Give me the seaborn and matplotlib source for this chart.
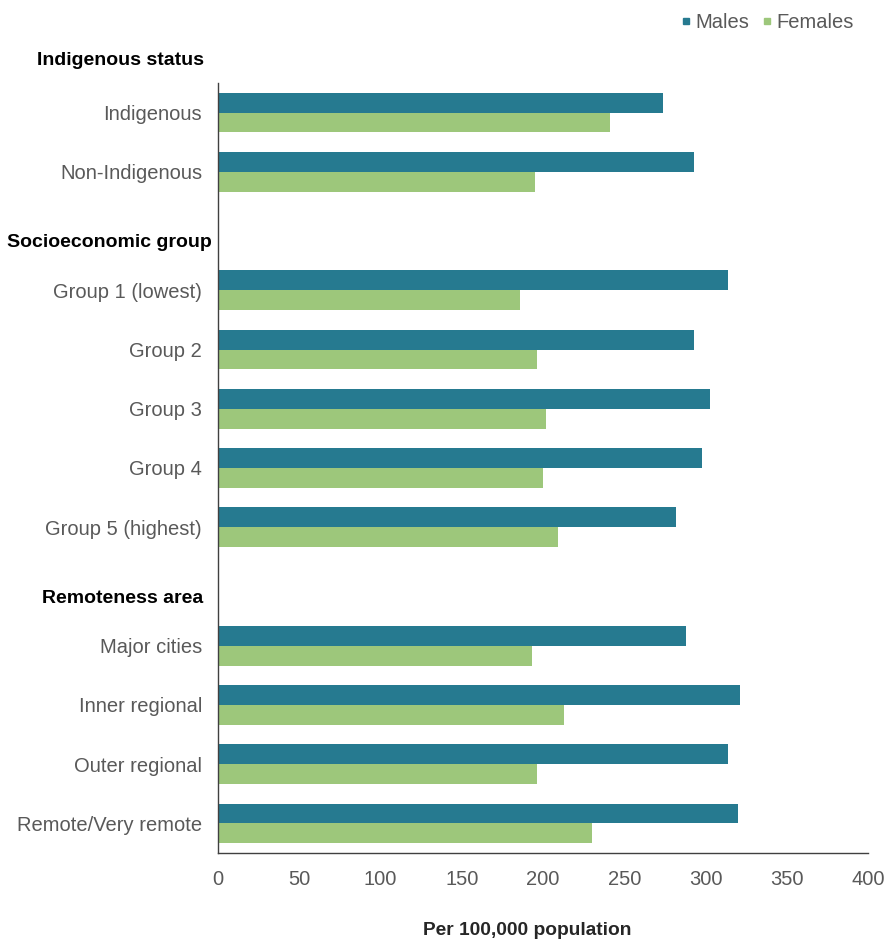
import pandas as pd
import matplotlib.pyplot as plt
from matplotlib.lines import Line2D
import seaborn as sns

# row labels, blank entries are the gaps between groups
categories = ["Indigenous", "Non-Indigenous", " ",
              "Group 1 (lowest)", "Group 2", "Group 3", "Group 4", "Group 5 (highest)", "  ",
              "Major cities", "Inner regional", "Outer regional", "Remote/Very remote"]
males = [274, 293, None, 314, 293, 303, 298, 282, None, 288, 321, 314, 320]
females = [241, 195, None, 186, 196, 202, 200, 209, None, 193, 213, 196, 230]
headers = ["Indigenous status", "Socioeconomic group", "Remoteness area"]
xticks = [0, 50, 100, 150, 200, 250, 300, 350, 400]

teal = "#267A90"
green = "#9DC77B"
grey = "#595959"

df = pd.DataFrame({"cat": categories * 2,
                   "val": males + females,
                   "sex": ["Males"] * len(categories) + ["Females"] * len(categories)})

sns.set_style("white")
plt.rcParams['font.family'] = ['Liberation Sans', 'DejaVu Sans']

fig = plt.figure(figsize=(8.88, 9.46), dpi=100)
ax = fig.add_axes([0.2455, 0.0983, 0.732, 0.814])
sns.barplot(data=df, y="cat", x="val", hue="sex", order=categories,
            hue_order=["Males", "Females"], palette=[teal, green], saturation=1,
            width=0.67, orient="h", legend=False, linewidth=0, ax=ax)

ax.set_xlim(0, 400)
ax.set_ylim(len(categories) - 0.5, -0.5)
ax.set_xticks(xticks)
ax.set_xticklabels([str(t) for t in xticks], fontsize=14.5, color=grey)
ax.tick_params(axis="x", length=5, width=1, color="#404040", direction="out", pad=7)
ax.tick_params(axis="y", length=0, labelsize=14.5, labelcolor=grey, pad=11.5)
ax.set_ylabel("")
ax.set_xlabel("")
for s in ["top", "right"]:
    ax.spines[s].set_visible(False)
for s in ["left", "bottom"]:
    ax.spines[s].set_color("#404040")
    ax.spines[s].set_linewidth(1)

# group headings
for name, pos, xr in zip(headers, [-0.88, 2.2, 8.2], [-0.021, -0.009, -0.022]):
    ax.text(xr, pos, name, transform=ax.get_yaxis_transform(),
            ha="right", va="center", fontsize=14, fontweight="bold", color="black")

fig.text(0.594, 0.016, "Per 100,000 population", ha="center", va="center",
         fontsize=13.8, fontweight="bold")

handles = [Line2D([], [], marker="s", linestyle="", color=teal, markersize=5),
           Line2D([], [], marker="s", linestyle="", color=green, markersize=5)]
fig.legend(handles, ["Males", "Females"], loc="center right", bbox_to_anchor=(0.961, 0.976),
           ncol=2, frameon=False, fontsize=14.5, handlelength=0.4, handletextpad=0.25,
           columnspacing=0.7, borderpad=0, borderaxespad=0, labelcolor=grey)

plt.savefig("out.png", dpi=100)
